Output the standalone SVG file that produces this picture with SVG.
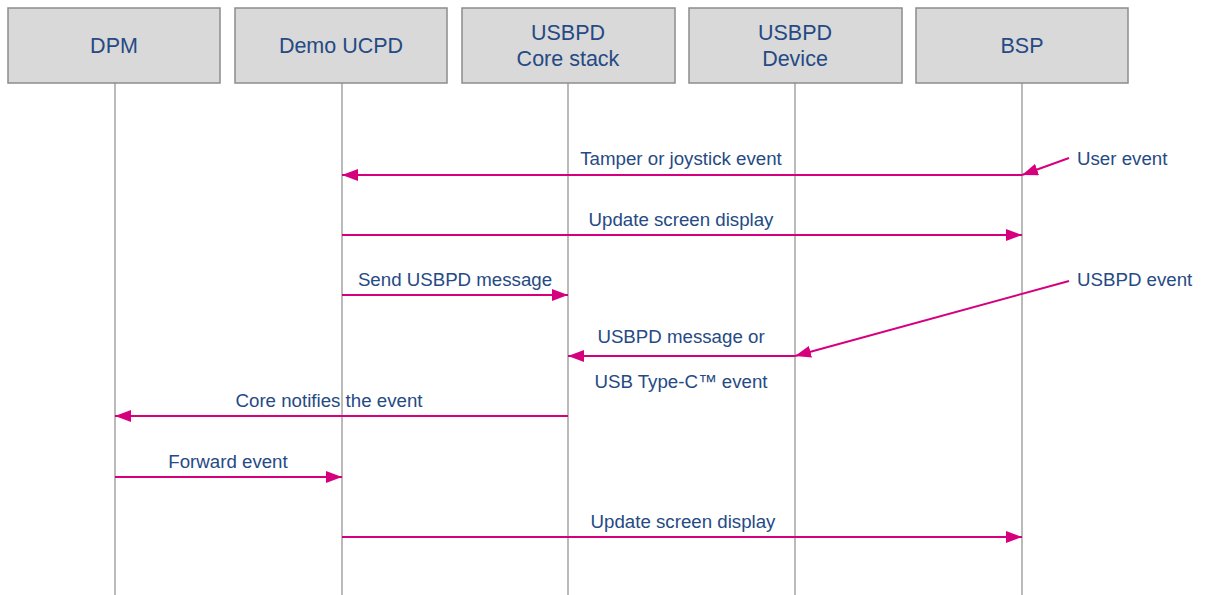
<svg xmlns="http://www.w3.org/2000/svg" width="1209" height="595" viewBox="0 0 1209 595">
<style>
.box{fill:#d9d9d9;stroke:#8c8c8c;stroke-width:1.5}
.life{stroke:#8c8c8c;stroke-width:1.2}
.t{font-family:"Liberation Sans",Arial,sans-serif;font-size:21.5px;fill:#254a84}
.lbl{font-family:"Liberation Sans",Arial,sans-serif;font-size:18.7px;fill:#254a84}
.msg{stroke:#d6007f;stroke-width:2;fill:none;marker-end:url(#ah)}
</style>
<defs>
<marker id="ah" markerWidth="16" markerHeight="12" refX="16" refY="6" orient="auto" markerUnits="userSpaceOnUse">
<path d="M0,0 L16,6 L0,12 z" fill="#d6007f"/>
</marker>
</defs>
<g id="lifelines">
<line class="life" x1="115" y1="83" x2="115" y2="595"/>
<line class="life" x1="342" y1="83" x2="342" y2="595"/>
<line class="life" x1="568" y1="83" x2="568" y2="595"/>
<line class="life" x1="795" y1="83" x2="795" y2="595"/>
<line class="life" x1="1022" y1="83" x2="1022" y2="595"/>
</g>
<g id="dpm"><rect class="box" x="8" y="8" width="212" height="75"/><text class="t" x="114" y="53" text-anchor="middle">DPM</text></g>
<g id="demo"><rect class="box" x="235" y="8" width="212" height="75"/><text class="t" x="341" y="53" text-anchor="middle">Demo UCPD</text></g>
<g id="core"><rect class="box" x="462" y="8" width="213" height="75"/><text class="t" x="568" y="40" text-anchor="middle">USBPD</text><text class="t" x="568" y="66" text-anchor="middle">Core stack</text></g>
<g id="device"><rect class="box" x="689" y="8" width="213" height="75"/><text class="t" x="795" y="40" text-anchor="middle">USBPD</text><text class="t" x="795" y="66" text-anchor="middle">Device</text></g>
<g id="bsp"><rect class="box" x="916" y="8" width="212" height="75"/><text class="t" x="1022" y="53" text-anchor="middle">BSP</text></g>
<g id="connectors">
<line class="msg" x1="1022" y1="175" x2="342" y2="175"/>
<line class="msg" x1="1069" y1="158" x2="1022" y2="175"/>
<line class="msg" x1="342" y1="235" x2="1022" y2="235"/>
<line class="msg" x1="342" y1="295" x2="568" y2="295"/>
<line class="msg" x1="795" y1="356" x2="568" y2="356"/>
<line class="msg" x1="1069" y1="281" x2="795" y2="356"/>
<line class="msg" x1="568" y1="416" x2="115" y2="416"/>
<line class="msg" x1="115" y1="477" x2="342" y2="477"/>
<line class="msg" x1="342" y1="537" x2="1022" y2="537"/>
</g>
<g id="labels">
<text class="lbl" x="681" y="165" text-anchor="middle">Tamper or joystick event</text>
<text class="lbl" x="1077" y="165">User event</text>
<text class="lbl" x="681" y="226" text-anchor="middle">Update screen display</text>
<text class="lbl" x="455" y="286" text-anchor="middle">Send USBPD message</text>
<text class="lbl" x="1077" y="286">USBPD event</text>
<text class="lbl" x="681" y="343" text-anchor="middle">USBPD message or</text>
<text class="lbl" x="681" y="388" text-anchor="middle">USB Type-C™ event</text>
<text class="lbl" x="329" y="407" text-anchor="middle">Core notifies the event</text>
<text class="lbl" x="228" y="468" text-anchor="middle">Forward event</text>
<text class="lbl" x="683" y="528" text-anchor="middle">Update screen display</text>
</g>
</svg>
